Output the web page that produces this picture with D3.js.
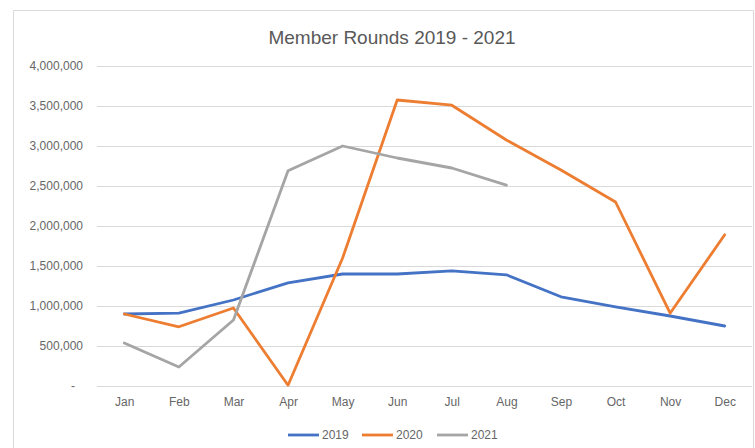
<!DOCTYPE html>
<html>
<head>
<meta charset="utf-8">
<script src="https://cdn.jsdelivr.net/npm/d3@7/dist/d3.min.js"></script>
<style>
  html, body { margin: 0; padding: 0; background: #fff; }
  svg { display: block; font-family: "Liberation Sans", Arial, sans-serif; }
</style>
</head>
<body>
<svg id="chart" width="755" height="448"></svg>
<script>
const months = ["Jan","Feb","Mar","Apr","May","Jun","Jul","Aug","Sep","Oct","Nov","Dec"];
const seriesNames = ["2019","2020","2021"];
const values2019 = [900000, 910000, 1075000, 1290000, 1400000, 1400000, 1440000, 1390000, 1115000, 990000, 875000, 750000];
const values2020 = [900000, 740000, 975000, 10000, 1600000, 3575000, 3510000, 3075000, 2700000, 2300000, 910000, 1890000];
const values2021 = [537000, 237000, 825000, 2690000, 3000000, 2850000, 2725000, 2510000];
const yTicks = [0, 500000, 1000000, 1500000, 2000000, 2500000, 3000000, 3500000, 4000000];
const colors = ["#4472C4", "#ED7D31", "#A5A5A5"];
const title = "Member Rounds 2019 - 2021";

const allSeries = [values2019, values2020, values2021];

const svg = d3.select("#chart");

// chart border
svg.append("path")
  .attr("d", "M13.5,448 V10.5 H753.5 V448")
  .attr("fill", "none")
  .attr("stroke", "#d9d9d9")
  .attr("stroke-width", 1);

const x = d3.scalePoint().domain(months).range([97, 752]).padding(0.5);
const y = d3.scaleLinear().domain([0, 4000000]).range([386, 66]);

// gridlines
svg.append("g")
  .selectAll("line")
  .data(yTicks)
  .join("line")
  .attr("x1", 97).attr("x2", 752)
  .attr("y1", d => Math.round(y(d)) + 0.5)
  .attr("y2", d => Math.round(y(d)) + 0.5)
  .attr("stroke", "#d9d9d9")
  .attr("stroke-width", 1);

// y axis labels
const yAxis = d3.axisLeft(y)
  .tickValues(yTicks)
  .tickSize(0)
  .tickPadding(0)
  .tickFormat(d => d === 0 ? "-" : d3.format(",")(d));
const yg = svg.append("g").attr("transform", "translate(83,0)").call(yAxis);
yg.select(".domain").remove();
yg.selectAll("text")
  .attr("fill", "#666")
  .attr("font-size", 12)
  .attr("font-family", "Liberation Sans, Arial, sans-serif")
  .attr("dx", d => d === 0 ? -8 : 0);

// x axis labels
const xAxis = d3.axisBottom(x).tickSize(0).tickPadding(0);
const xg = svg.append("g").attr("transform", "translate(0,397)").call(xAxis);
xg.select(".domain").remove();
xg.selectAll("text")
  .attr("fill", "#666")
  .attr("font-size", 12)
  .attr("font-family", "Liberation Sans, Arial, sans-serif");

// lines
const line = d3.line()
  .x((d, i) => x(months[i]))
  .y(d => y(d));

svg.append("g")
  .selectAll("path")
  .data(allSeries)
  .join("path")
  .attr("d", d => line(d))
  .attr("fill", "none")
  .attr("stroke", (d, i) => colors[i])
  .attr("stroke-width", 2.8)
  .attr("stroke-linejoin", "round")
  .attr("stroke-linecap", "round");

// title
svg.append("text")
  .attr("x", 392)
  .attr("y", 44)
  .attr("text-anchor", "middle")
  .attr("font-size", 19)
  .attr("fill", "#595959")
  .text(title);

// legend
const legendX = [288, 362, 437];
const lg = svg.append("g");
seriesNames.forEach((name, i) => {
  lg.append("line")
    .attr("x1", legendX[i]).attr("x2", legendX[i] + 31)
    .attr("y1", 435).attr("y2", 435)
    .attr("stroke", colors[i])
    .attr("stroke-width", 2.8);
  lg.append("text")
    .attr("x", legendX[i] + 34)
    .attr("y", 439)
    .attr("font-size", 12)
    .attr("fill", "#666")
    .text(name);
});
</script>
</body>
</html>
